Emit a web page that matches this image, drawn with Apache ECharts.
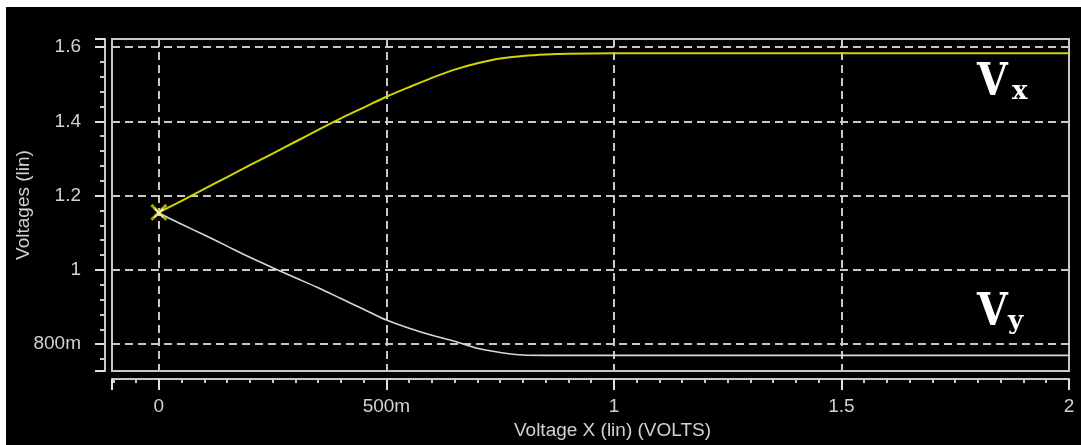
<!DOCTYPE html>
<html>
<head>
<meta charset="utf-8">
<script src="https://cdn.jsdelivr.net/npm/echarts@6/dist/echarts.min.js"></script>
<style>
  html, body { margin: 0; padding: 0; background: #ffffff; }
  #chart { position: absolute; left: 6px; top: 7px; width: 1075px; height: 438px; background: #000000; }
</style>
</head>
<body>
<div id="chart"></div>
<script>
// Swept input voltage (V)
const sweepX = [0, 0.05, 0.1, 0.15, 0.2, 0.25, 0.3, 0.35, 0.4, 0.45, 0.5, 0.55, 0.6,
                0.65, 0.7, 0.75, 0.8, 0.85, 0.9, 1.0, 1.5, 2.0];
// Node voltage Vx (V)
const vx = [1.155, 1.186, 1.218, 1.250, 1.282, 1.313, 1.345, 1.377, 1.408, 1.437, 1.466, 1.492, 1.517,
            1.539, 1.556, 1.569, 1.576, 1.580, 1.582, 1.583, 1.583, 1.583];
// Node voltage Vy (V)
const vy = [1.153, 1.123, 1.094, 1.064, 1.034, 1.006, 0.979, 0.952, 0.923, 0.894, 0.865, 0.843, 0.824,
            0.808, 0.789, 0.778, 0.771, 0.770, 0.770, 0.770, 0.770, 0.770];

// Axis tick values and their engineering-notation labels
const xTicks = [0, 0.5, 1, 1.5, 2];
const xTickLabels = ['0', '500m', '1', '1.5', '2'];
const yTicks = [0.8, 1.0, 1.2, 1.4, 1.6];
const yTickLabels = ['800m', '1', '1.2', '1.4', '1.6'];

const seriesNames = ['Vx', 'Vy'];

function lookup(ticks, labels, v) {
  const i = ticks.findIndex(t => Math.abs(t - v) < 1e-6);
  return i >= 0 ? labels[i] : '';
}

const gridGray = '#c8c8c8';
const textGray = '#d2d2d2';
const uiFont = '"Liberation Sans", Arial, sans-serif';

const xMark = 'path://M0,1.2 L1.2,0 L10,8.8 L8.8,10 Z M8.8,0 L10,1.2 L1.2,10 L0,8.8 Z';

const chart = echarts.init(document.getElementById('chart'), null, { renderer: 'canvas' });

chart.setOption({
  animation: false,
  backgroundColor: '#000000',
  grid: {
    left: 106, top: 32, right: 12, bottom: 74,
    outerBoundsMode: 'none',
    containLabel: false,
    show: true, borderColor: gridGray, borderWidth: 2, backgroundColor: 'transparent'
  },
  xAxis: {
    type: 'value',
    min: -0.103, max: 2,
    minInterval: 0.5, maxInterval: 0.5,
    offset: 8,
    name: 'Voltage X (lin) (VOLTS)',
    nameLocation: 'middle',
    nameGap: 42,
    nameMoveOverlap: false,
    nameTextStyle: { color: textGray, fontFamily: uiFont, fontSize: 19, padding: [0, 0, 0, 44] },
    axisLine: { show: true, onZero: false, lineStyle: { color: gridGray, width: 2 } },
    axisTick: { show: true, inside: false, length: 11, lineStyle: { color: '#e0e0e0', width: 2 } },
    minorTick: { show: true, splitNumber: 10, length: 4, lineStyle: { color: gridGray, width: 2 } },
    axisLabel: {
      show: true, color: textGray, fontFamily: uiFont, fontSize: 19, margin: 18,
      showMinLabel: false,
      formatter: v => lookup(xTicks, xTickLabels, v)
    },
    splitLine: {
      show: true, showMinLine: false,
      lineStyle: { color: gridGray, width: 2, type: [8, 5] }
    }
  },
  yAxis: {
    type: 'value',
    min: 0.728, max: 1.6215,
    minInterval: 0.2, maxInterval: 0.2,
    offset: 7,
    name: 'Voltages (lin)',
    nameLocation: 'middle',
    nameRotate: 90,
    nameGap: 72,
    nameMoveOverlap: false,
    nameTextStyle: { color: textGray, fontFamily: uiFont, fontSize: 19 },
    axisLine: { show: true, onZero: false, lineStyle: { color: gridGray, width: 2 } },
    axisTick: { show: true, inside: false, length: 10, lineStyle: { color: '#e0e0e0', width: 2 } },
    minorTick: { show: true, splitNumber: 5, length: 5, lineStyle: { color: gridGray, width: 2 } },
    axisLabel: {
      show: true, color: textGray, fontFamily: uiFont, fontSize: 19, margin: 24,
      showMinLabel: false, showMaxLabel: false,
      formatter: v => lookup(yTicks, yTickLabels, v)
    },
    splitLine: {
      show: true, showMinLine: false, showMaxLine: false,
      lineStyle: { color: gridGray, width: 2, type: [8, 5] }
    }
  },
  series: [
    {
      name: seriesNames[0],
      type: 'line',
      data: sweepX.map((x, i) => [x, vx[i]]),
      showSymbol: false,
      smooth: 0.3,
      lineStyle: { color: '#d4d400', width: 2 },
      z: 3
    },
    {
      name: seriesNames[1],
      type: 'line',
      data: sweepX.map((x, i) => [x, vy[i]]),
      showSymbol: false,
      smooth: 0.3,
      lineStyle: { color: '#d8d8d8', width: 1.6 },
      z: 3
    },
    {
      // start-point cursor marks on both traces
      type: 'scatter',
      data: [[sweepX[0], vx[0]]],
      symbol: xMark,
      symbolSize: 17,
      itemStyle: { color: '#d4d400' },
      z: 4
    },
    {
      type: 'scatter',
      data: [[sweepX[0], vy[0]]],
      symbol: xMark,
      symbolSize: 10,
      itemStyle: { color: '#ffffff' },
      z: 5
    }
  ],
  graphic: [
    { type: 'text', left: 971, top: 55, z: 10,
      style: { text: 'V', fill: '#ffffff', font: 'bold 44px "DejaVu Serif", serif' }, scaleX: 0.9 },
    { type: 'text', left: 1006, top: 72, z: 10,
      style: { text: 'x', fill: '#ffffff', font: 'bold 26px "DejaVu Serif", serif' } },
    { type: 'text', left: 971, top: 285, z: 10,
      style: { text: 'V', fill: '#ffffff', font: 'bold 44px "DejaVu Serif", serif' }, scaleX: 0.9 },
    { type: 'text', left: 1002, top: 302, z: 10,
      style: { text: 'y', fill: '#ffffff', font: 'bold 26px "DejaVu Serif", serif' } }
  ]
});
</script>
</body>
</html>
